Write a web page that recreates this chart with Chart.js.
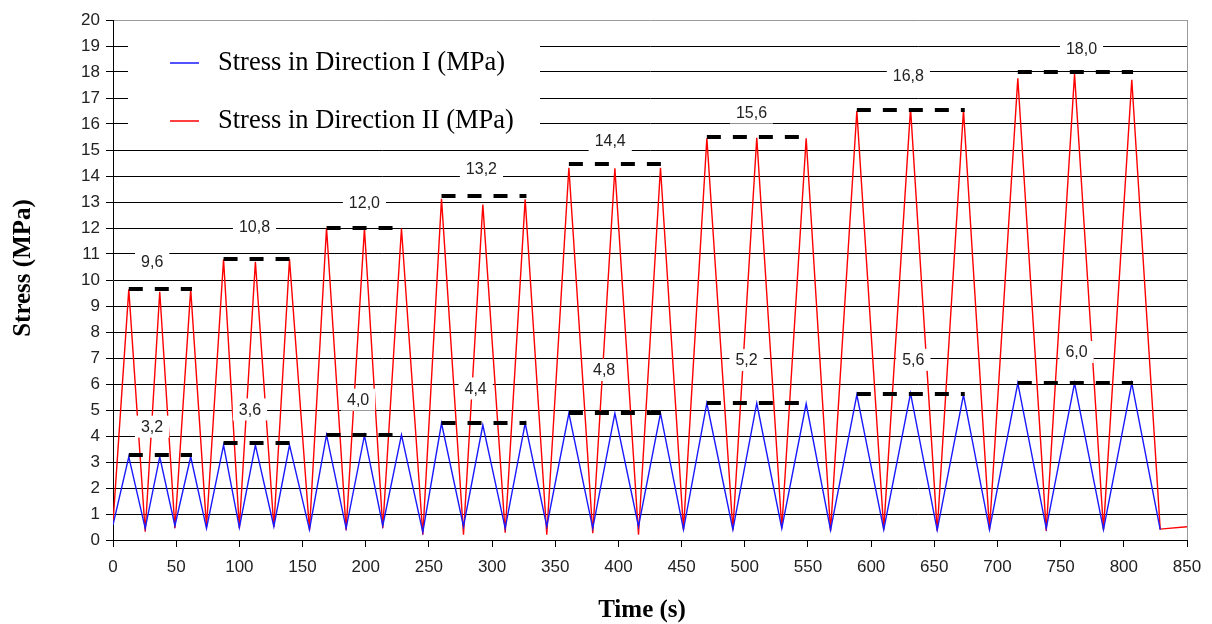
<!DOCTYPE html>
<html>
<head>
<meta charset="utf-8">
<title>Stress vs time</title>
<script src="https://cdn.jsdelivr.net/npm/chart.js@4.4.1/dist/chart.umd.min.js"></script>
<style>
  body { margin: 0; background: #fff; }
  #wrap { width: 1212px; height: 624px; }
</style>
</head>
<body>
<div id="wrap"><canvas id="stress-chart"></canvas></div>
<script>
// axis ticks
const timeTicks = [0, 50, 100, 150, 200, 250, 300, 350, 400, 450, 500, 550, 600, 650, 700, 750, 800, 850]
const stressTicks = [0, 1, 2, 3, 4, 5, 6, 7, 8, 9, 10, 11, 12, 13, 14, 15, 16, 17, 18, 19, 20]

// turning points of the load cycles (s), 8 levels x 3 cycles
const peakTimes = [12.5, 37, 61.5, 87.5, 112.7, 139.7, 169, 199, 228.3, 260, 292.7, 326.2,
                   360.8, 397.2, 433.3, 470, 509.5, 548.6, 588.7, 631.2, 673.1, 716.1, 761, 806.3]
const troughTimes = [25.5, 49, 74, 100, 127.3, 155.5, 184.5, 213.5, 245.2, 277.4, 310.4, 343.3,
                     379.7, 415.9, 451.5, 490.6, 529.3, 567.9, 610, 652.3, 693.7, 738.6, 783.9, 828.8]

// Direction I (blue)
const stressIStart = [0, 0.58]
const stressIPeaks = [3.2, 3.2, 3.2, 3.65, 3.65, 3.65, 4.04, 4.02, 4.04, 4.49, 4.42, 4.49,
                      4.87, 4.87, 4.87, 5.26, 5.26, 5.24, 5.58, 5.64, 5.58, 6.03, 6.03, 6.03]
const stressITroughs = [0.45, 0.55, 0.45, 0.48, 0.52, 0.4, 0.45, 0.55, 0.3, 0.52, 0.45, 0.52,
                        0.45, 0.52, 0.4, 0.4, 0.45, 0.38, 0.4, 0.38, 0.4, 0.45, 0.4, 0.4]

// Direction II (red)
const stressIIStart = [0, 0.66]
const stressIIEnd = [850, 0.51]
const stressIIPeaks = [9.64, 9.55, 9.64, 10.8, 10.7, 10.8, 12.0, 11.98, 11.98, 13.12, 12.9, 13.1,
                       14.32, 14.3, 14.32, 15.45, 15.47, 15.45, 16.5, 16.6, 16.54, 17.76, 17.92, 17.7]
const stressIITroughs = [0.32, 0.45, 0.5, 0.45, 0.5, 0.38, 0.38, 0.45, 0.2, 0.2, 0.28, 0.2,
                         0.26, 0.2, 0.4, 0.38, 0.45, 0.35, 0.4, 0.35, 0.4, 0.35, 0.4, 0.42]

// nominal peak levels (dashed lines) and their labels
const levelI = [3.28, 3.72, 4.04, 4.51, 4.9, 5.28, 5.6, 6.05]
const levelII = [9.65, 10.8, 12.0, 13.24, 14.46, 15.5, 16.54, 18.0]
const levelLabelI = ['3,2', '3,6', '4,0', '4,4', '4,8', '5,2', '5,6', '6,0']
const levelLabelII = ['9,6', '10,8', '12,0', '13,2', '14,4', '15,6', '16,8', '18,0']
// label anchors in data units (time, stress)
const labelTimeI = [30.9, 108.4, 194, 287, 388.7, 501.4, 633.4, 762.6]
const labelStressI = [4.36, 5.02, 5.4, 5.83, 6.54, 6.92, 6.93, 7.23]
const labelTimeII = [31, 112, 199, 291.6, 393.5, 505.3, 629.5, 766.5]
const labelStressII = [10.7, 12.05, 12.96, 14.28, 15.35, 16.44, 17.87, 18.91]

const blue = 'rgb(25, 25, 255)'
const red = 'rgb(255, 0, 0)'

function buildSeries(start, peaks, troughs, end) {
    const pts = [{x: start[0], y: start[1]}]
    peaks.forEach((p, i) => {
        pts.push({x: peakTimes[i], y: p})
        pts.push({x: troughTimes[i], y: troughs[i]})
    })
    if (end) pts.push({x: end[0], y: end[1]})
    return pts
}

const overlayPlugin = {
    id: 'overlay',
    afterDatasetsDraw(chart) {
        const {ctx, chartArea: area, scales: {x, y}} = chart
        ctx.save()

        // grey right frame
        ctx.strokeStyle = '#9a9a9a'
        ctx.lineWidth = 1
        ctx.beginPath()
        ctx.moveTo(Math.round(area.right) + 0.5, area.top)
        ctx.lineTo(Math.round(area.right) + 0.5, area.bottom)
        ctx.stroke()

        // dashed peak levels
        ctx.strokeStyle = '#000'
        ctx.lineWidth = 4
        ctx.setLineDash([14, 12])
        const drawLevels = levels => levels.forEach((lvl, i) => {
            const py = Math.round(y.getPixelForValue(lvl))
            ctx.beginPath()
            ctx.moveTo(x.getPixelForValue(peakTimes[i * 3]), py)
            ctx.lineTo(x.getPixelForValue(peakTimes[i * 3 + 2] + 1), py)
            ctx.stroke()
        })
        drawLevels(levelII)
        drawLevels(levelI)
        ctx.setLineDash([])

        // level labels on white boxes
        ctx.font = '16px "Liberation Sans", Arial, sans-serif'
        ctx.textAlign = 'center'
        ctx.textBaseline = 'middle'
        const drawLabels = (texts, times, values) => texts.forEach((t, i) => {
            const px = x.getPixelForValue(times[i])
            const py = y.getPixelForValue(values[i])
            const w = ctx.measureText(t).width + 12
            ctx.fillStyle = '#fff'
            ctx.fillRect(px - w / 2, py - 11, w, 22)
            ctx.fillStyle = '#222'
            ctx.fillText(t, px, py + 1)
        })
        drawLabels(levelLabelII, labelTimeII, labelStressII)
        drawLabels(levelLabelI, labelTimeI, labelStressI)

        // legend inside the plot
        ctx.fillStyle = '#fff'
        ctx.fillRect(128, 33, 412, 110)
        ctx.font = '26.5px "Liberation Serif", "Times New Roman", serif'
        ctx.textAlign = 'left'
        ctx.textBaseline = 'alphabetic'
        const swatch = [blue, red]
        chart.data.datasets.forEach((ds, i) => {
            const ly = 63 + i * 58
            ctx.strokeStyle = swatch[i]
            ctx.lineWidth = 1.5
            ctx.beginPath()
            ctx.moveTo(170, ly)
            ctx.lineTo(199, ly)
            ctx.stroke()
            ctx.fillStyle = '#000'
            ctx.fillText(ds.label, 218, ly + 7)
        })

        // axis titles
        ctx.font = 'bold 25px "Liberation Serif", "Times New Roman", serif'
        ctx.textAlign = 'center'
        ctx.fillText('Time (s)', 642, 617)
        ctx.translate(24, 268)
        ctx.rotate(-Math.PI / 2)
        ctx.textBaseline = 'middle'
        ctx.fillText('Stress (MPa)', 0, 0)
        ctx.restore()
    }
}

const ctx = document.getElementById('stress-chart').getContext('2d')
const chart = new Chart(ctx, {
    type: 'line',
    data: {
        datasets: [
            {
                label: 'Stress in Direction I (MPa)',
                data: buildSeries(stressIStart, stressIPeaks, stressITroughs, null),
                borderColor: blue,
                borderWidth: 1.4,
                pointRadius: 0,
                tension: 0,
                fill: false
            },
            {
                label: 'Stress in Direction II (MPa)',
                data: buildSeries(stressIIStart, stressIIPeaks, stressIITroughs, stressIIEnd),
                borderColor: red,
                borderWidth: 1.4,
                pointRadius: 0,
                tension: 0,
                fill: false
            }
        ]
    },
    options: {
        responsive: true,
        maintainAspectRatio: false,
        animation: false,
        layout: {
            padding: {left: 0, right: 25, top: 20, bottom: 0}
        },
        scales: {
            x: {
                type: 'linear',
                min: timeTicks[0],
                max: timeTicks[timeTicks.length - 1],
                afterBuildTicks: s => { s.ticks = timeTicks.map(v => ({value: v})) },
                afterFit: s => { s.height = 84 },
                border: {color: '#000', width: 1},
                grid: {
                    drawOnChartArea: false,
                    tickLength: 7,
                    tickColor: '#000'
                },
                ticks: {
                    maxRotation: 0,
                    autoSkip: false,
                    padding: 10,
                    color: '#222',
                    font: {family: '"Liberation Sans", Arial, sans-serif', size: 17}
                }
            },
            y: {
                min: stressTicks[0],
                max: stressTicks[stressTicks.length - 1],
                afterBuildTicks: s => { s.ticks = stressTicks.map(v => ({value: v})) },
                afterFit: s => { s.width = 113 },
                border: {color: '#000', width: 1},
                grid: {
                    color: c => (c.tick && c.tick.value === 20) ? '#9a9a9a' : '#000',
                    lineWidth: 1,
                    tickLength: 7,
                    tickColor: '#000'
                },
                ticks: {
                    autoSkip: false,
                    padding: 6,
                    color: '#222',
                    font: {family: '"Liberation Sans", Arial, sans-serif', size: 17}
                }
            }
        },
        plugins: {
            legend: {display: false},
            tooltip: {enabled: false}
        }
    },
    plugins: [overlayPlugin]
})
</script>
</body>
</html>
